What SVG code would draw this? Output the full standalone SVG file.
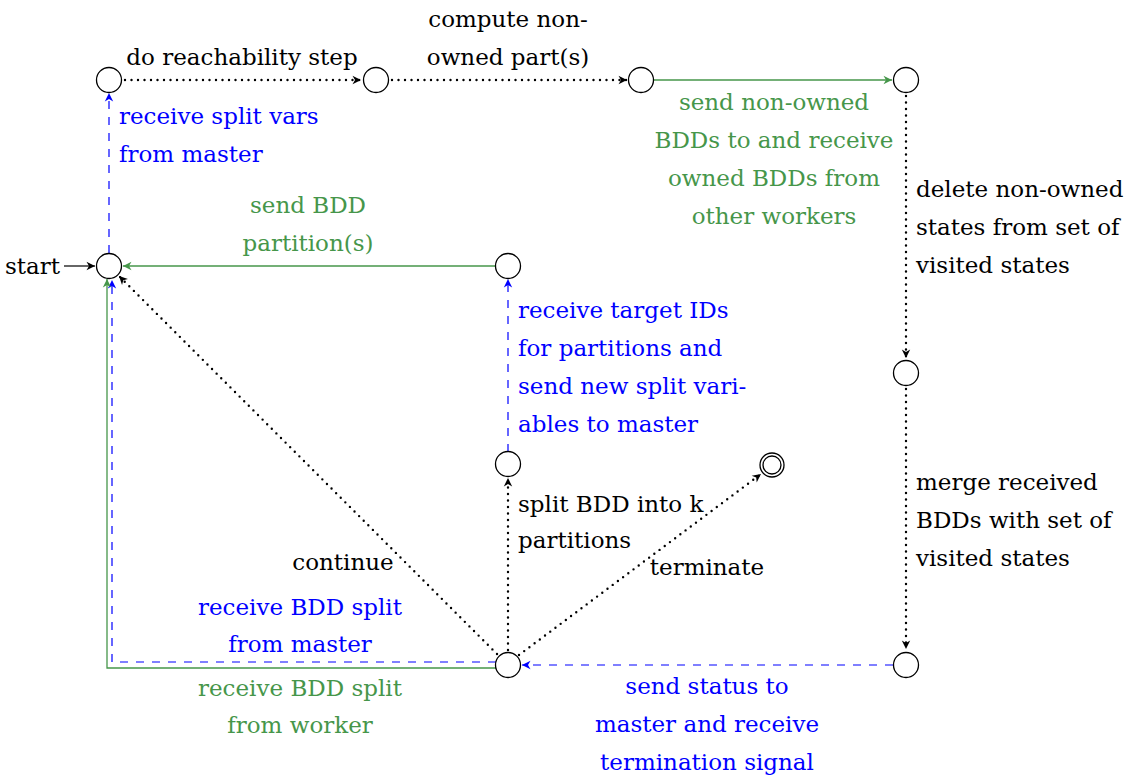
<svg xmlns="http://www.w3.org/2000/svg" width="1133" height="778" viewBox="0 0 1133 778">
  <defs>
    <style>
      .st { fill: #ffffff; stroke: #000000; stroke-width: 1.3; }
      .lbl { font-family: "DejaVu Serif", "Liberation Serif", serif; font-size: 23px; }
      .k { fill: #000000; }
      .b { fill: #0000ff; }
      .g { fill: #46964a; }
      .mid { text-anchor: middle; }
      .end { text-anchor: end; }
      .dot { fill: none; stroke: #000000; stroke-width: 2.4; stroke-linecap: round; stroke-dasharray: 0 6.5; }
      .dash { fill: none; stroke: #0000ff; stroke-width: 1.2; stroke-dasharray: 8 8; }
      .grn { fill: none; stroke: #46964a; stroke-width: 1.3; }
      .blk { fill: none; stroke: #000000; stroke-width: 1.2; }
    </style>
    <marker id="ah-k" viewBox="-10 -6 12 12" refX="0" refY="0" markerWidth="12" markerHeight="12" markerUnits="userSpaceOnUse" orient="auto">
      <path d="M0,0 L-8.5,-4.2 L-6,0 L-8.5,4.2 Z" fill="#000000"/>
    </marker>
    <marker id="ah-b" viewBox="-10 -6 12 12" refX="0" refY="0" markerWidth="12" markerHeight="12" markerUnits="userSpaceOnUse" orient="auto">
      <path d="M0,0 L-8.5,-4.2 L-6,0 L-8.5,4.2 Z" fill="#0000ff"/>
    </marker>
    <marker id="ah-g" viewBox="-10 -6 12 12" refX="0" refY="0" markerWidth="12" markerHeight="12" markerUnits="userSpaceOnUse" orient="auto">
      <path d="M0,0 L-8.5,-4.2 L-6,0 L-8.5,4.2 Z" fill="#46964a"/>
    </marker>
  </defs>

  <rect x="0" y="0" width="1133" height="778" fill="#ffffff"/>

  <!-- transitions -->
  <g id="connectors">
    <line class="blk" x1="64" y1="266" x2="95" y2="266" marker-end="url(#ah-k)"/>
    <line class="dash" x1="109" y1="253" x2="109" y2="93" marker-end="url(#ah-b)"/>
    <line class="dot" x1="125" y1="80" x2="361" y2="80" marker-end="url(#ah-k)"/>
    <line class="dot" x1="392" y1="80" x2="627" y2="80" marker-end="url(#ah-k)"/>
    <line class="grn" x1="654" y1="80" x2="892" y2="80" marker-end="url(#ah-g)"/>
    <line class="dot" x1="906" y1="96" x2="906" y2="358" marker-end="url(#ah-k)"/>
    <line class="dot" x1="906" y1="389" x2="906" y2="649" marker-end="url(#ah-k)"/>
    <line class="dash" x1="893" y1="665" x2="522" y2="665" marker-end="url(#ah-b)"/>
    <line class="dot" x1="497" y1="654" x2="119" y2="276" marker-end="url(#ah-k)"/>
    <line class="dot" x1="508" y1="650" x2="508" y2="478" marker-end="url(#ah-k)"/>
    <line class="dot" x1="519" y1="655" x2="761" y2="474" marker-end="url(#ah-k)"/>
    <line class="dash" x1="508" y1="452" x2="508" y2="279" marker-end="url(#ah-b)"/>
    <line class="grn" x1="496" y1="266" x2="123" y2="266" marker-end="url(#ah-g)"/>
    <path class="dash" d="M496,662 L112,662 L112,280" marker-end="url(#ah-b)"/>
    <path class="grn" d="M496,668 L107,668 L107,279" marker-end="url(#ah-g)"/>
  </g>

  <!-- states -->
  <g id="s-start"><circle class="st" cx="109" cy="266" r="12.5"/></g>
  <g id="s-reach"><circle class="st" cx="109" cy="80" r="12.5"/></g>
  <g id="s-computed"><circle class="st" cx="376" cy="80" r="12.5"/></g>
  <g id="s-nonowned"><circle class="st" cx="641" cy="80" r="12.5"/></g>
  <g id="s-exchanged"><circle class="st" cx="906" cy="80" r="12.5"/></g>
  <g id="s-deleted"><circle class="st" cx="906" cy="373" r="12.5"/></g>
  <g id="s-merged"><circle class="st" cx="906" cy="665" r="12.5"/></g>
  <g id="s-status"><circle class="st" cx="508" cy="665" r="12.5"/></g>
  <g id="s-split"><circle class="st" cx="508" cy="464" r="12.5"/></g>
  <g id="s-partitioned"><circle class="st" cx="508" cy="266" r="12.5"/></g>
  <g id="s-final">
    <circle class="st" cx="772" cy="465" r="12"/>
    <circle class="st" cx="772" cy="465" r="9"/>
  </g>

  <!-- labels -->
  <g id="labels" class="lbl">
    <text class="k end" x="60" y="274">start</text>

    <text class="k mid" x="242" y="65">do reachability step</text>

    <text class="k mid" x="508" y="27">compute non-</text>
    <text class="k mid" x="508" y="65">owned part(s)</text>

    <text class="g mid" x="774" y="110">send non-owned</text>
    <text class="g mid" x="774" y="148">BDDs to and receive</text>
    <text class="g mid" x="774" y="186">owned BDDs from</text>
    <text class="g mid" x="774" y="224">other workers</text>

    <text class="b" x="119" y="124">receive split vars</text>
    <text class="b" x="119" y="162">from master</text>

    <text class="k" x="916" y="197">delete non-owned</text>
    <text class="k" x="916" y="235">states from set of</text>
    <text class="k" x="916" y="273">visited states</text>

    <text class="g mid" x="308" y="213">send BDD</text>
    <text class="g mid" x="308" y="251">partition(s)</text>

    <text class="b" x="518" y="318">receive target IDs</text>
    <text class="b" x="518" y="356">for partitions and</text>
    <text class="b" x="518" y="394">send new split vari-</text>
    <text class="b" x="518" y="432">ables to master</text>

    <text class="k" x="916" y="490">merge received</text>
    <text class="k" x="916" y="528">BDDs with set of</text>
    <text class="k" x="916" y="566">visited states</text>

    <text class="k" x="518" y="512">split BDD into k</text>
    <text class="k" x="518" y="548">partitions</text>

    <text class="k mid" x="343" y="570">continue</text>
    <text class="k mid" x="707" y="575">terminate</text>

    <text class="b mid" x="300" y="615">receive BDD split</text>
    <text class="b mid" x="300" y="652">from master</text>

    <text class="g mid" x="300" y="696">receive BDD split</text>
    <text class="g mid" x="300" y="733">from worker</text>

    <text class="b mid" x="707" y="694">send status to</text>
    <text class="b mid" x="707" y="732">master and receive</text>
    <text class="b mid" x="707" y="770">termination signal</text>
  </g>
</svg>
